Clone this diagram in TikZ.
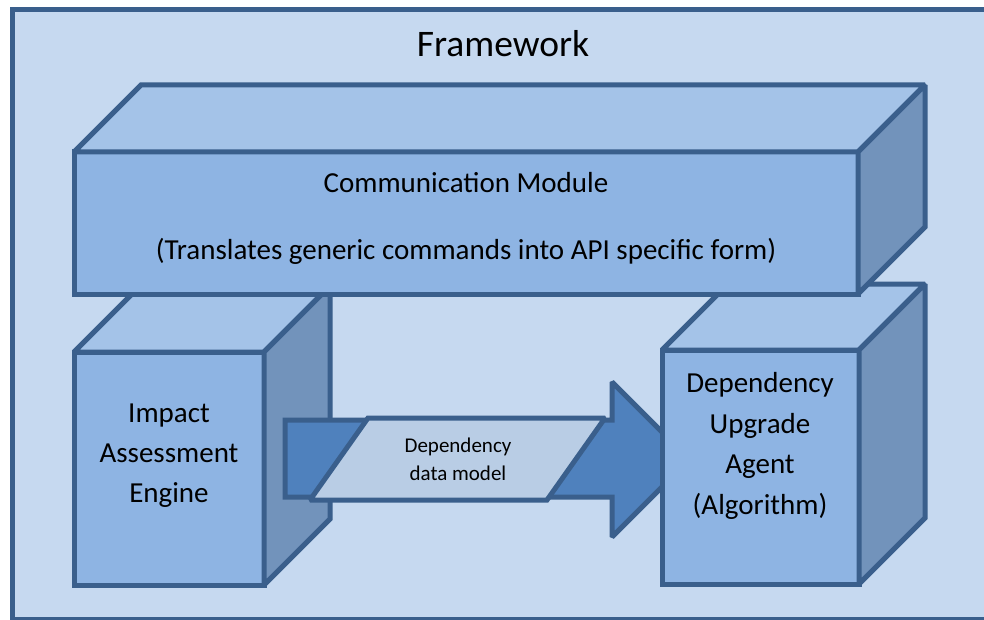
\documentclass[tikz,border=0pt]{standalone}
\usepackage{fontspec}
\setmainfont{Carlito}
\definecolor{framec}{HTML}{C6D9F0}
\definecolor{edgec}{HTML}{3A5F8C}
\definecolor{frontc}{HTML}{8EB4E3}
\definecolor{topc}{HTML}{A4C3E8}
\definecolor{sidec}{HTML}{7293BB}
\definecolor{arrowc}{HTML}{4F81BD}
\definecolor{parac}{HTML}{B9CDE5}
\begin{document}
\begin{tikzpicture}[x=1pt,y=-1pt,
  edge/.style={draw=edgec, line width=5pt, line join=miter, miter limit=1.5},
  front/.style={edge, fill=frontc, rectangle, outer sep=0pt, inner sep=0pt},
  topf/.style={edge, fill=topc},
  sidef/.style={edge, fill=sidec},
  lbl/.style={anchor=base, inner sep=0pt, font=\fontsize{29}{35}\selectfont},
  small/.style={anchor=base, inner sep=0pt, font=\fontsize{21}{25}\selectfont}]
\useasboundingbox (0,0) rectangle (984,620);

% framework panel: open on the right, where it runs off the page
\fill[framec] (12.5,9.5) rectangle (984,619.5);
\draw[edge, line width=4.5pt] (984,9.5) -- (12.5,9.5) -- (12.5,619.5) -- (984,619.5);
\node[lbl, font=\fontsize{37.5}{44}\selectfont] (title) at (503,57) {Framework};

% Impact Assessment Engine cube
\node[front, minimum width=190pt, minimum height=233pt] (imp) at (169,468.5) {};
\draw[topf] (imp.north west) -- ++(66,-66) -- ++(190,0) -- (imp.north east) -- cycle;
\draw[sidef] (imp.north east) -- ++(66,-66) -- ++(0,233) -- (imp.south east) -- cycle;
\node[lbl] (imp1) at (169,422) {Impact};
\node[lbl] (imp2) at (169,462) {Assessment};
\node[lbl] (imp3) at (169,502) {Engine};

% block arrow carrying the data model
\draw[edge, fill=arrowc] (285,420) -- (612,420) -- (612,382) -- (689.5,459.5)
  -- (612,537) -- (612,497) -- (285,497) -- cycle;
\draw[edge, fill=parac] (368,418) -- (605,418) -- (547,500) -- (310,500) -- cycle;
\node[small] (dm1) at (458,452) {Dependency};
\node[small] (dm2) at (458,480) {data model};

% Dependency Upgrade Agent cube
\node[front, minimum width=197pt, minimum height=234pt] (agt) at (760.5,467) {};
\draw[topf] (agt.north west) -- ++(66,-66) -- ++(197,0) -- (agt.north east) -- cycle;
\draw[sidef] (agt.north east) -- ++(66,-66) -- ++(0,234) -- (agt.south east) -- cycle;
\node[lbl] (agt1) at (760,392) {Dependency};
\node[lbl] (agt2) at (760,433) {Upgrade};
\node[lbl] (agt3) at (760,473) {Agent};
\node[lbl] (agt4) at (760,514) {(Algorithm)};

% Communication Module slab
\node[front, minimum width=784pt, minimum height=142pt] (com) at (466,223) {};
\draw[topf] (com.north west) -- ++(67,-67) -- ++(784,0) -- (com.north east) -- cycle;
\draw[sidef] (com.north east) -- ++(67,-67) -- ++(0,142) -- (com.south east) -- cycle;
\node[lbl] (com1) at (466,193) {Communication Module};
\node[lbl] (com2) at (466,259) {(Translates generic commands into API specific form)};
\end{tikzpicture}
\end{document}
